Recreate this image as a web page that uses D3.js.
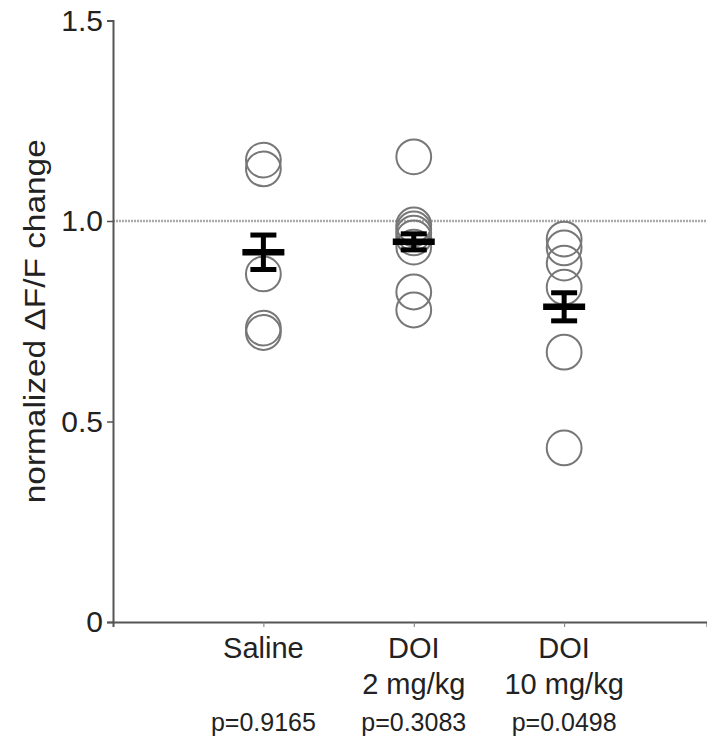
<!DOCTYPE html>
<html>
<head>
<meta charset="utf-8">
<script src="https://cdn.jsdelivr.net/npm/d3@7"></script>
<style>
  body { margin: 0; background: #fff; }
  text { font-family: "Liberation Sans", Arial, sans-serif; fill: #222; }
</style>
</head>
<body>
<div id="d3-container"></div>
<script>
// groups, first line + second line of each x label, p values
const groups = ["Saline", "DOI", "DOI"];
const groupSub = ["", "2 mg/kg", "10 mg/kg"];
const pValues = ["p=0.9165", "p=0.3083", "p=0.0498"];

// individual points per group
const saline = [1.152, 1.13, 0.868, 0.733, 0.722];
const doi2 = [1.16, 0.99, 0.98, 0.97, 0.958, 0.935, 0.823, 0.778];
const doi10 = [0.955, 0.933, 0.895, 0.835, 0.673, 0.434];

// mean and SEM as drawn
const means = [0.922, 0.948, 0.786];
const sems = [0.043, 0.02, 0.035];

const yTicks = [0, 0.5, 1.0, 1.5];
const refLine = 1.0;

const width = 707;
const height = 740;

const points = [saline, doi2, doi10].flatMap((vals, i) => vals.map(v => ({ g: i, v: v })));

const xScale = d3.scaleLinear()
    .domain([-1, 2.95])
    .range([113, 707]);

const yScale = d3.scaleLinear()
    .domain([0, 1.5])
    .range([622, 20.5]);

const svg = d3.select("#d3-container")
    .append("svg")
    .attr("width", width)
    .attr("height", height);

// dotted reference at 1.0
svg.append("line")
    .attr("x1", xScale(-1))
    .attr("x2", width)
    .attr("y1", yScale(refLine))
    .attr("y2", yScale(refLine))
    .attr("stroke", "#aaa")
    .attr("stroke-width", 2.5)
    .attr("stroke-dasharray", "2,1");

// y axis
const yAxis = d3.axisLeft(yScale)
    .tickValues(yTicks)
    .tickSizeOuter(0)
    .tickSize(6)
    .tickPadding(4)
    .tickFormat(d => d === 0 ? "0" : d3.format(".1f")(d));

const gy = svg.append("g")
    .attr("transform", `translate(${xScale(-1)},0)`)
    .call(yAxis);
gy.select(".domain").attr("stroke", "#555").attr("stroke-width", 2);
gy.selectAll(".tick line").attr("stroke", "#555").attr("stroke-width", 1.5);
gy.selectAll(".tick text")
    .attr("font-size", 30)
    .attr("fill", "#222")
    .style("font-family", "Liberation Sans, Arial, sans-serif");

// x axis
const xAxis = d3.axisBottom(xScale)
    .tickValues([0, 1, 2])
    .tickSizeOuter(0)
    .tickSize(5)
    .tickFormat("");

const gx = svg.append("g")
    .attr("transform", `translate(0,${yScale(0)})`)
    .call(xAxis);
gx.select(".domain").attr("stroke", "#555").attr("stroke-width", 2);
gx.selectAll(".tick line").attr("stroke", "#777").attr("stroke-width", 1);

// y label
svg.append("text")
    .attr("transform", `translate(45,${yScale(0.75)}) rotate(-90)`)
    .attr("text-anchor", "middle")
    .attr("font-size", 30)
    .attr("textLength", 364)
    .attr("lengthAdjust", "spacingAndGlyphs")
    .text("normalized \u0394F/F change");

// x labels
svg.append("g")
    .selectAll("text")
    .data(groups)
    .enter()
    .append("text")
    .attr("x", (d, i) => xScale(i))
    .attr("y", 658)
    .attr("text-anchor", "middle")
    .attr("font-size", 29)
    .text(d => d);

svg.append("g")
    .selectAll("text")
    .data(groupSub)
    .enter()
    .append("text")
    .attr("x", (d, i) => xScale(i))
    .attr("y", 694)
    .attr("text-anchor", "middle")
    .attr("font-size", 29)
    .text(d => d);

svg.append("g")
    .selectAll("text")
    .data(pValues)
    .enter()
    .append("text")
    .attr("x", (d, i) => xScale(i))
    .attr("y", 731)
    .attr("text-anchor", "middle")
    .attr("font-size", 25)
    .text(d => d);

// open circles
svg.append("g")
    .selectAll("circle")
    .data(points)
    .enter()
    .append("circle")
    .attr("cx", d => xScale(d.g))
    .attr("cy", d => yScale(d.v))
    .attr("r", 17.4)
    .attr("fill", "none")
    .attr("stroke", "#777")
    .attr("stroke-width", 2);

// mean + SEM
const err = svg.append("g")
    .selectAll("g")
    .data(means)
    .enter()
    .append("g");

err.append("line")
    .attr("x1", (d, i) => xScale(i))
    .attr("x2", (d, i) => xScale(i))
    .attr("y1", (d, i) => yScale(d + sems[i]))
    .attr("y2", (d, i) => yScale(d - sems[i]))
    .attr("stroke", "#000")
    .attr("stroke-width", 5);

err.append("line")
    .attr("x1", (d, i) => xScale(i) - 21)
    .attr("x2", (d, i) => xScale(i) + 21)
    .attr("y1", d => yScale(d))
    .attr("y2", d => yScale(d))
    .attr("stroke", "#000")
    .attr("stroke-width", 6.5);

["+", "-"].forEach(s => {
    err.append("line")
        .attr("x1", (d, i) => xScale(i) - 13)
        .attr("x2", (d, i) => xScale(i) + 13)
        .attr("y1", (d, i) => yScale(s === "+" ? d + sems[i] : d - sems[i]))
        .attr("y2", (d, i) => yScale(s === "+" ? d + sems[i] : d - sems[i]))
        .attr("stroke", "#000")
        .attr("stroke-width", 5);
});
</script>
</body>
</html>
